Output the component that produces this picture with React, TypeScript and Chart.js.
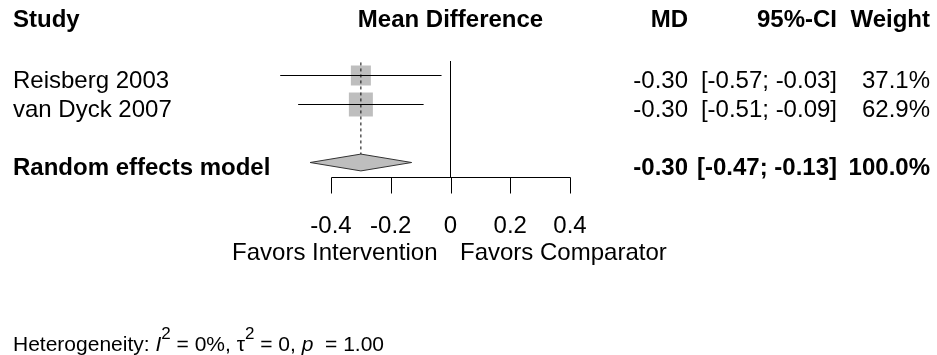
import React, { useEffect, useRef } from "react";
import { Chart, registerables } from "chart.js";

Chart.register(...registerables);

// ---------------- data ----------------
const STUDIES = ["Reisberg 2003", "van Dyck 2007"];
const MD = [-0.3, -0.3];
const CI_LOW = [-0.57, -0.51];
const CI_HIGH = [-0.03, -0.09];
const WEIGHTS = [37.1, 62.9];

const POOLED_LABEL = "Random effects model";
const POOLED_MD = -0.3;
const POOLED_LOW = -0.47;
const POOLED_HIGH = -0.13;
const POOLED_WEIGHT = 100.0;

const X_TICKS = [-0.4, -0.2, 0, 0.2, 0.4];
const X_TICK_LABELS = ["-0.4", "-0.2", "0", "0.2", "0.4"];
const LABEL_LEFT = "Favors Intervention";
const LABEL_RIGHT = "Favors Comparator";
const HEADERS = ["Study", "Mean Difference", "MD", "95%-CI", "Weight"];

// ---------------- layout / style ----------------
const W = 937;
const H = 355;
const FONT = '"Liberation Sans", Arial, Helvetica, sans-serif';
const FS = 24;
const FS_HET = 21;
const FS_SUP = 17;
const PX_PER_UNIT = 298.75;
const X_ZERO_PX = 450.5;
const PX_PER_ROW = 29;
const ROW0_PX = 46.5;
const X_MIN = -X_ZERO_PX / PX_PER_UNIT;
const X_MAX = (W - X_ZERO_PX) / PX_PER_UNIT;
const Y_MIN = -ROW0_PX / PX_PER_ROW;
const Y_MAX = (H - ROW0_PX) / PX_PER_ROW;
const SQUARE_SIDE = [20, 24];
const SQUARE_COLOR = "#bebebe";
const DIAMOND_HALF = 0.29;
const AXIS_ROW = 4.5;
const TOP_ROW = 0.5;

const studyRow = (i: number) => i + 1;
const POOLED_ROW = STUDIES.length + 2;

const fmt2 = (v: number) => v.toFixed(2);
const ciText = (lo: number, hi: number) => `[${fmt2(lo)}; ${fmt2(hi)}]`;
const wText = (w: number) => `${w.toFixed(1)}%`;

const forestText = {
  id: "forestText",
  afterDraw(chart: any) {
    const ctx: CanvasRenderingContext2D = chart.ctx;
    const xs = chart.scales.x;
    const ys = chart.scales.y;
    const x0 = xs.getPixelForValue(0);
    ctx.save();
    ctx.fillStyle = "#000";
    ctx.textBaseline = "alphabetic";

    const bold = `bold ${FS}px ${FONT}`;
    const norm = `${FS}px ${FONT}`;
    const put = (t: string, x: number, y: number, align: CanvasTextAlign, font: string) => {
      ctx.font = font;
      ctx.textAlign = align;
      ctx.fillText(t, x, y);
    };

    // header
    const hy = 27;
    const xMid = (xs.getPixelForValue(X_TICKS[0]) + xs.getPixelForValue(X_TICKS[X_TICKS.length - 1])) / 2;
    put(HEADERS[0], 13, hy, "left", bold);
    put(HEADERS[1], xMid, hy, "center", bold);
    put(HEADERS[2], 688, hy, "right", bold);
    put(HEADERS[3], 837, hy, "right", bold);
    put(HEADERS[4], 930, hy, "right", bold);

    // study rows
    STUDIES.forEach((s, i) => {
      const y = ys.getPixelForValue(studyRow(i)) + 12;
      put(s, 13, y, "left", norm);
      put(fmt2(MD[i]), 688, y, "right", norm);
      put(ciText(CI_LOW[i], CI_HIGH[i]), 837, y, "right", norm);
      put(wText(WEIGHTS[i]), 930, y, "right", norm);
    });

    // pooled row
    const py = ys.getPixelForValue(POOLED_ROW) + 12;
    put(POOLED_LABEL, 13, py, "left", bold);
    put(fmt2(POOLED_MD), 688, py, "right", bold);
    put(ciText(POOLED_LOW, POOLED_HIGH), 837, py, "right", bold);
    put(wText(POOLED_WEIGHT), 930, py, "right", bold);

    // x axis
    const ay = Math.round(ys.getPixelForValue(AXIS_ROW)) + 0.5;
    ctx.strokeStyle = "#000";
    ctx.lineWidth = 1;
    ctx.beginPath();
    const xa = Math.round(xs.getPixelForValue(X_TICKS[0])) + 0.5;
    const xb = Math.round(xs.getPixelForValue(X_TICKS[X_TICKS.length - 1])) + 0.5;
    ctx.moveTo(xa, ay);
    ctx.lineTo(xb, ay);
    X_TICKS.forEach((t) => {
      const tx = Math.round(xs.getPixelForValue(t)) + 0.5;
      ctx.moveTo(tx, ay);
      ctx.lineTo(tx, ay + 16);
    });
    ctx.stroke();
    X_TICKS.forEach((t, i) => {
      put(X_TICK_LABELS[i], xs.getPixelForValue(t), ay + 55.5, "center", norm);
    });
    put(LABEL_LEFT, x0 - 13, ay + 82.5, "right", norm);
    put(LABEL_RIGHT, x0 + 9.5, ay + 82.5, "left", norm);

    // heterogeneity
    let hx = 13;
    const hb = 351;
    const seg = (t: string, font: string, dy = 0) => {
      ctx.font = font;
      ctx.textAlign = "left";
      ctx.fillText(t, hx, hb + dy);
      hx += ctx.measureText(t).width;
    };
    const hnorm = `${FS_HET}px ${FONT}`;
    const ital = `italic ${FS_HET}px ${FONT}`;
    const sup = `${FS_SUP}px ${FONT}`;
    seg("Heterogeneity: ", hnorm);
    seg("I", ital);
    seg("2", sup, -12);
    seg(" = 0%, ", hnorm);
    seg("\u03c4", hnorm);
    seg("2", sup, -12);
    seg(" = 0, ", hnorm);
    seg("p", ital);
    seg("  = 1.00", hnorm);
    ctx.restore();
  },
};

export default function App() {
  const ref = useRef<HTMLCanvasElement>(null);
  useEffect(() => {
    document.body.style.margin = "0";
    const datasets: any[] = [];
    // pooled estimate dashed line (on top)
    datasets.push({
      data: [
        { x: POOLED_MD, y: TOP_ROW + 0.05 },
        { x: POOLED_MD, y: POOLED_ROW - DIAMOND_HALF },
      ],
      borderColor: "#000",
      borderWidth: 1,
      borderDash: [3, 3],
      pointRadius: 0,
      showLine: true,
    });
    // line of no effect
    datasets.push({
      data: [
        { x: 0, y: TOP_ROW },
        { x: 0, y: AXIS_ROW },
      ],
      borderColor: "#000",
      borderWidth: 1,
      pointRadius: 0,
      showLine: true,
    });
    // confidence intervals
    STUDIES.forEach((_, i) => {
      datasets.push({
        data: [
          { x: CI_LOW[i], y: studyRow(i) },
          { x: CI_HIGH[i], y: studyRow(i) },
        ],
        borderColor: "#000",
        borderWidth: 1,
        pointRadius: 0,
        showLine: true,
      });
    });
    // squares
    datasets.push({
      data: STUDIES.map((_, i) => ({ x: MD[i], y: studyRow(i) })),
      showLine: false,
      pointStyle: "rect",
      pointRadius: SQUARE_SIDE.map((s) => s / Math.SQRT2),
      pointHoverRadius: SQUARE_SIDE.map((s) => s / Math.SQRT2),
      pointBackgroundColor: SQUARE_COLOR,
      pointBorderWidth: 0,
      pointBorderColor: SQUARE_COLOR,
    });
    // diamond
    datasets.push({
      data: [
        { x: POOLED_LOW, y: POOLED_ROW },
        { x: POOLED_MD, y: POOLED_ROW - DIAMOND_HALF },
        { x: POOLED_HIGH, y: POOLED_ROW },
        { x: POOLED_MD, y: POOLED_ROW + DIAMOND_HALF },
        { x: POOLED_LOW, y: POOLED_ROW },
      ],
      borderColor: "#333",
      borderWidth: 1,
      backgroundColor: SQUARE_COLOR,
      fill: "shape",
      pointRadius: 0,
      showLine: true,
    });

    const chart = new Chart(ref.current!, {
      type: "line",
      data: { datasets },
      options: {
        animation: false,
        responsive: false,
        devicePixelRatio: 1,
        events: [],
        layout: { padding: 0, autoPadding: false },
        plugins: { legend: { display: false }, tooltip: { enabled: false } },
        scales: {
          x: { type: "linear", min: X_MIN, max: X_MAX, display: false },
          y: { type: "linear", min: Y_MIN, max: Y_MAX, reverse: true, display: false },
        },
      },
      plugins: [forestText],
    } as any);
    return () => chart.destroy();
  }, []);
  return <canvas ref={ref} width={W} height={H} style={{ display: "block" }} />;
}
